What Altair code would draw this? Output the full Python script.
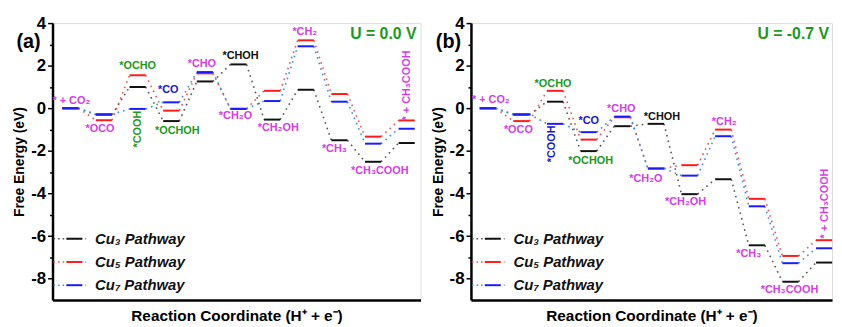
import altair as alt
import pandas as pd

FONT = "Liberation Sans"
steps = list(range(1, 12))
series = ["Cu3", "Cu5", "Cu7"]

# Free energies (eV), U = 0.0 V
a_vals = {
    "Cu3": [0.00, -0.30, 1.00, -0.60, 1.26, 2.06, -0.53, 0.87, -1.50, -2.51, -1.63],
    "Cu5": [0.00, -0.56, 1.55, -0.11, 1.64, -0.02, 0.82, 3.19, 0.67, -1.33, -0.57],
    "Cu7": [0.00, -0.28, -0.03, 0.28, 1.70, -0.03, 0.34, 2.91, 0.31, -1.66, -0.96],
}
# U = -0.7 V
b_vals = {
    "Cu3": [0.00, -0.30, 0.31, -2.01, -0.84, -0.73, -4.03, -3.33, -6.43, -8.14, -7.24],
    "Cu5": [0.00, -0.60, 0.82, -1.47, -0.42, -2.82, -2.67, -1.00, -4.25, -6.93, -6.19],
    "Cu7": [0.00, -0.28, -0.73, -1.12, -0.39, -2.83, -3.16, -1.31, -4.60, -7.27, -6.57],
}

# species labels (text, x in step units, y in eV, colour group)
a_lab_text = ["* + CO₂", "*OCO", "*OCHO", "*CO", "*OCHOH", "*CHO", "*CHOH", "*CH₂O",
              "*CH₂OH", "*CH₂", "*CH₃", "*CH₃COOH"]
a_lab_x = [1.03, 1.88, 3.0, 3.91, 4.18, 4.91, 6.06, 5.91, 7.18, 7.97, 8.85, 10.2]
a_lab_y = [0.33, -0.98, 1.98, 0.84, -1.05, 2.09, 2.44, -0.37, -0.93, 3.58, -1.91, -2.93]
a_lab_grp = ["m", "m", "g", "b", "g", "m", "k", "m", "m", "m", "m", "m"]
a_vlab_text = ["*COOH", "* + CH₃COOH"]
a_vlab_x = [3.01, 11.0]
a_vlab_y = [-0.98, 1.07]
a_vlab_grp = ["g", "m"]

b_lab_text = ["* + CO₂", "*OCO", "*OCHO", "*CO", "*OCHOH", "*CHO", "*CHOH", "*CH₂O",
              "*CH₂OH", "*CH₂", "*CH₃", "*CH₃COOH"]
b_lab_x = [1.09, 1.91, 2.94, 4.0, 4.06, 4.97, 6.18, 5.7, 6.88, 8.03, 8.76, 9.97]
b_lab_y = [0.4, -1.0, 1.16, -0.6, -2.47, -0.02, -0.4, -3.3, -4.42, -0.65, -6.84, -8.51]
b_lab_grp = ["m", "m", "g", "b", "g", "m", "k", "m", "m", "m", "m", "m"]
b_vlab_text = ["*COOH", "* + CH₃COOH"]
b_vlab_x = [2.91, 11.03]
b_vlab_y = [-1.67, -4.47]
b_vlab_grp = ["b", "m"]

legend_text = {"Cu3": "Cu₃ Pathway", "Cu5": "Cu₅ Pathway", "Cu7": "Cu₇ Pathway"}

LEVEL_COL = {"Cu3": "#111111", "Cu5": "#ff1a1a", "Cu7": "#1a1aff"}
LINK_COL = {"Cu3": "#555555", "Cu5": "#f05050", "Cu7": "#3a8ee6"}
TEXT_COL = {"m": "#d63ce8", "g": "#1a9b1a", "b": "#1515d8", "k": "#111111"}
HW = 0.24
H = 280
STEP_PX = 34.0


def xenc(field, domain):
    return alt.X(field + ":Q", scale=alt.Scale(domain=domain, nice=False, zero=False),
                 axis=alt.Axis(title="Reaction Coordinate (H⁺ + e⁻)", ticks=False, labels=False,
                               grid=False, domainWidth=2.5, domainColor="black",
                               titleFont=FONT, titleFontSize=15.5, titleFontWeight="bold",
                               titleColor="black", titlePadding=9))


def yenc(field):
    return alt.Y(field + ":Q", scale=alt.Scale(domain=[-9, 4], nice=False, zero=False),
                 axis=alt.Axis(title="Free Energy (eV)", values=list(range(-8, 5)),
                               labelExpr="datum.value % 2 == 0 ? '' + datum.value : ''",
                               grid=False,
                               tickSize={"condition": {"test": "datum.value % 2 == 0", "value": 5},
                                         "value": 3},
                               tickWidth=1.5, tickColor="black",
                               domainWidth=2.5, domainColor="black",
                               labelFont=FONT, labelFontSize=17, labelFontWeight="bold",
                               labelColor="black", labelPadding=2,
                               titleFont=FONT, titleFontSize=14, titleFontWeight="bold",
                               titleColor="black", titlePadding=4))


def panel(vals, lt, lx, ly, lg, vt, vx, vy, vg, tag, tag_x, ulabel, u_align, u_x, width, x0):
    dom = [x0, x0 + width / STEP_PX]
    one = pd.DataFrame({"k": [0]})
    layers = []
    for s in series:
        E = vals[s]
        cn = pd.DataFrame({"xa": [i + HW for i in steps[:-1]],
                           "xb": [i + 1 - HW for i in steps[:-1]],
                           "ya": E[:-1], "yb": E[1:]})
        layers.append(alt.Chart(cn).mark_rule(color=LINK_COL[s], strokeWidth=1.6,
                                              strokeDash=[1.6, 4.2]).encode(
            x=xenc("xa", dom), x2="xb", y=yenc("ya"), y2="yb"))
    for s in series:
        E = vals[s]
        lv = pd.DataFrame({"x1": [i - HW for i in steps], "x2": [i + HW for i in steps], "E": E})
        layers.append(alt.Chart(lv).mark_rule(color=LEVEL_COL[s], strokeWidth=2).encode(
            x=xenc("x1", dom), x2="x2", y=yenc("E")))
    lab = pd.DataFrame({"t": lt, "x": lx, "y": ly, "g": lg})
    vlab = pd.DataFrame({"t": vt, "x": vx, "y": vy, "g": vg})
    for g, col in TEXT_COL.items():
        sub = lab[lab.g == g]
        if len(sub):
            layers.append(alt.Chart(sub).mark_text(font=FONT, fontSize=11, fontWeight="bold",
                                                   color=col, align="center", baseline="middle").encode(
                x=xenc("x", dom), y=yenc("y"), text="t:N"))
        sub = vlab[vlab.g == g]
        if len(sub):
            layers.append(alt.Chart(sub).mark_text(font=FONT, fontSize=11, fontWeight="bold",
                                                   color=col, align="center", baseline="middle",
                                                   angle=270).encode(
                x=xenc("x", dom), y=yenc("y"), text="t:N"))
    # legend
    for r, s in enumerate(series):
        yy = 218 + r * 23.5
        layers.append(alt.Chart(one).mark_rule(color=LINK_COL[s], strokeWidth=1.6,
                                               strokeDash=[1.6, 3]).encode(
            x=alt.value(1), x2=alt.value(34), y=alt.value(yy)))
        layers.append(alt.Chart(one).mark_rule(color=LEVEL_COL[s], strokeWidth=2).encode(
            x=alt.value(14), x2=alt.value(30), y=alt.value(yy)))
        layers.append(alt.Chart(one).mark_text(text=legend_text[s], font=FONT, fontSize=15,
                                               fontWeight="bold", fontStyle="italic",
                                               color="#111111", align="left",
                                               baseline="middle").encode(
            x=alt.value(43), y=alt.value(yy)))
    layers.append(alt.Chart(one).mark_text(text=tag, font=FONT, fontSize=20, fontWeight="bold",
                                           color="black", align="right",
                                           baseline="middle").encode(
        x=alt.value(tag_x), y=alt.value(19.5)))
    layers.append(alt.Chart(one).mark_text(text=ulabel, font=FONT, fontSize=16, fontWeight="bold",
                                           color="#1a9b1a", align=u_align, baseline="middle",
                                           clip=True).encode(
        x=alt.value(u_x), y=alt.value(11)))
    return alt.layer(*layers).properties(width=width, height=H)


WA = 372
pa = panel(a_vals, a_lab_text, a_lab_x, a_lab_y, a_lab_grp,
           a_vlab_text, a_vlab_x, a_vlab_y, a_vlab_grp,
           "(a)", -12, "U = 0.0 V", "right", 368, WA, 0.47)
WB = 365
pb = panel(b_vals, b_lab_text, b_lab_x, b_lab_y, b_lab_grp,
           b_vlab_text, b_vlab_x, b_vlab_y, b_vlab_grp,
           "(b)", -10, "U = -0.7 V", "right", 362, WB, 0.5)

chart = alt.hconcat(pa, pb, spacing=9).properties(
    padding={"left": 4, "top": 3.5, "right": 0, "bottom": 0}
).configure_view(stroke="black", strokeWidth=2.5).configure(font=FONT)

chart.save("out.html", embed_options={"renderer": "svg", "actions": False})
